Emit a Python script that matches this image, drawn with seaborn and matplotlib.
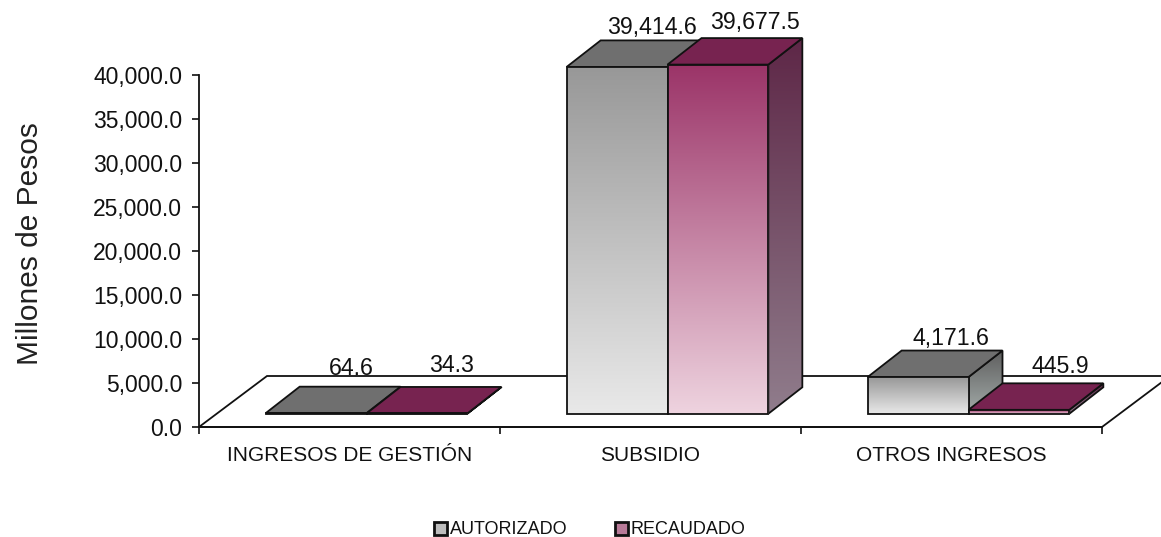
import numpy as np
import pandas as pd
import matplotlib
matplotlib.use("Agg")
import matplotlib.pyplot as plt
import seaborn as sns
from matplotlib.colors import LinearSegmentedColormap
from matplotlib.patches import Polygon, Patch
from matplotlib.ticker import StrMethodFormatter

# Data
rubros = ["INGRESOS DE GESTIÓN", "SUBSIDIO", "OTROS INGRESOS"]
autorizado = [64.6, 39414.6, 4171.6]
recaudado = [34.3, 39677.5, 445.9]
series = ["AUTORIZADO", "RECAUDADO"]

df = pd.DataFrame({
    "rubro": rubros * 2,
    "monto": autorizado + recaudado,
    "serie": [series[0]] * 3 + [series[1]] * 3,
})

# colours per series
colores_frente = {series[0]: ("#989898", "#e9e9e9"), series[1]: ("#9b3468", "#eed3df")}
colores_lado = {series[0]: ("#5e5e5e", "#a3aba9"), series[1]: ("#5e2747", "#907d8c")}
colores_tope = {series[0]: "#6f6f6f", series[1]: "#772350"}

sns.set_theme(style="white")
plt.rcParams["font.family"] = ["Liberation Sans", "DejaVu Sans"]

fig = plt.figure(figsize=(11.61, 5.37), dpi=100)
ax = fig.add_axes([199 / 1161, 1 - 427 / 537, 903 / 1161, 352 / 537])

sns.barplot(data=df, x="rubro", y="monto", hue="serie", palette=[colores_tope[s] for s in series],
            width=0.67, gap=0, legend=False, ax=ax)

# depth of the fake 3D, in data units
dx = 34 / 301
dy = 26.5 * 40000 / 352
linea = "#111111"


def degradado(colores, extent, poly, z):
    cmap = LinearSegmentedColormap.from_list("g", colores)
    grad = np.linspace(0, 1, 256).reshape(-1, 1)
    im = ax.imshow(grad, cmap=cmap, extent=extent, aspect="auto", origin="upper", zorder=z)
    im.set_clip_box(fig.bbox)
    im.set_clip_path(poly)


# floor
fondo = 51 * 40000 / 352
piso = Polygon([(-0.5, 0), (2.5, 0), (2.5 + 2 * dx, fondo), (-0.5 + 2 * dx, fondo)],
               closed=True, facecolor="white", edgecolor=linea, lw=1.3, clip_on=False, zorder=1)
ax.add_patch(piso)

# nudges for the value labels, px (right, up)
ajustes = [(-1, 45), (-1, 48), (-1, 39), (1, 42), (-3, 39), (5, 43)]

barras = []
for cont, s in zip(ax.containers, series):
    for barra, valor in zip(cont, cont.datavalues):
        barras.append((barra.get_x(), barra, s, valor))
barras.sort(key=lambda b: b[0])

z = 2
for i, (x0, barra, s, valor) in enumerate(barras):
    x = x0 + dx / 2
    w = barra.get_width()
    y = dy / 2
    h = valor

    # side
    lado = Polygon([(x + w, y), (x + w + dx, y + dy), (x + w + dx, y + h + dy), (x + w, y + h)],
                   closed=True, facecolor="none", edgecolor=linea, lw=1.3, clip_on=False, zorder=z + 1)
    ax.add_patch(lado)
    degradado(colores_lado[s], [x + w, x + w + dx, y, y + h + dy], lado, z)

    # top
    tope = Polygon([(x, y + h), (x + w, y + h), (x + w + dx, y + h + dy), (x + dx, y + h + dy)],
                   closed=True, facecolor=colores_tope[s], edgecolor=linea, lw=1.3, clip_on=False, zorder=z + 1)
    ax.add_patch(tope)

    # front is the seaborn bar, moved up on the floor
    barra.set_x(x)
    barra.set_y(y)
    barra.set_facecolor("none")
    barra.set_edgecolor(linea)
    barra.set_linewidth(1.3)
    barra.set_clip_on(False)
    barra.set_zorder(z + 3)
    degradado(colores_frente[s], [x, x + w, y, y + h], barra, z + 2)

    ax.annotate(f"{valor:,.1f}", xy=(x + w / 2, y + h), xytext=(36 + ajustes[i][0], ajustes[i][1]),
                textcoords="offset pixels", ha="center", va="center", fontsize=16.7, color="#111111",
                annotation_clip=False, zorder=50)
    z += 4

# axes
ax.set_xlim(-0.5, 2.5)
ax.set_ylim(0, 40000)
ax.yaxis.set_major_formatter(StrMethodFormatter("{x:,.1f}"))
ax.set_yticks(np.arange(0, 40001, 5000))
ax.set_xticks([-0.5, 0.5, 1.5, 2.5], labels=[])
ax.set_xticks(range(3), labels=rubros, minor=True)
ax.tick_params(axis="y", which="major", left=True, length=5, width=1.2, color=linea, labelsize=16.5,
               labelcolor="#111111", pad=7)
ax.tick_params(axis="x", which="major", bottom=True, length=5, width=1.2, color=linea)
ax.tick_params(axis="x", which="minor", bottom=False, length=0, labelsize=15, labelcolor="#111111", pad=13.6)
ax.set_xlabel("")
ax.set_ylabel("Millones de Pesos", fontsize=21.5, color="#222222")
ax.yaxis.set_label_coords((44 - 199) / 903, (427 - 243.5) / 352)
ax.patch.set_alpha(0)
for lado_eje in ["top", "right"]:
    ax.spines[lado_eje].set_visible(False)
for lado_eje in ["left", "bottom"]:
    ax.spines[lado_eje].set_color(linea)
    ax.spines[lado_eje].set_linewidth(1.3)
    ax.spines[lado_eje].set_zorder(1.5)

handles = [Patch(facecolor="#bdbdbd", edgecolor="#111111", lw=2, label=series[0]),
           Patch(facecolor="#b87a98", edgecolor="#111111", lw=2, label=series[1])]
fig.legend(handles=handles, loc="center", bbox_to_anchor=(590 / 1161, 1 - 530 / 537), ncol=2, frameon=False,
           fontsize=13, handlelength=0.7, handleheight=0.7, handletextpad=0.15, columnspacing=2.67,
           labelcolor="#111111", borderpad=0)

fig.savefig("out.png", dpi=100, facecolor="white")
